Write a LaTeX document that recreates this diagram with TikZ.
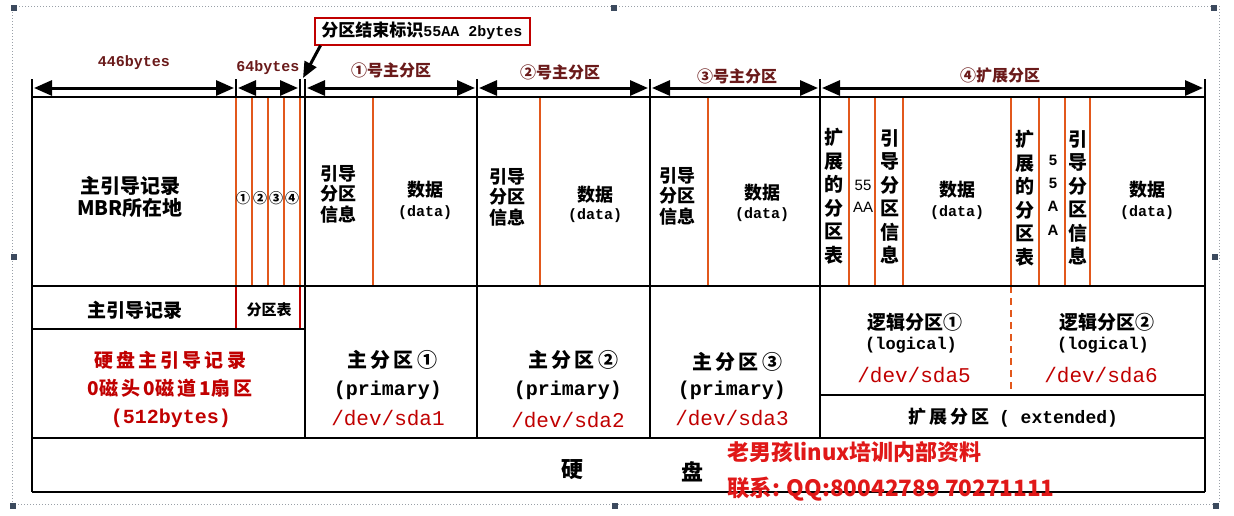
\documentclass[tikz,border=0pt]{standalone}
\usepackage{fontspec}
\usetikzlibrary{arrows.meta}
\newfontfamily\cjk{Noto Sans CJK SC}
\newfontfamily\mono{Liberation Mono}
\newfontfamily\lsans{Liberation Sans}
\newcommand\myfs[2]{\fontsize{#1}{#2}\selectfont}
\definecolor{maroon}{HTML}{6A1A1A}
\definecolor{orgc}{HTML}{E2581C}
\definecolor{dred}{HTML}{C00000}
\definecolor{wred}{HTML}{E01818}
\definecolor{handlec}{HTML}{3C4A5E}
\definecolor{framec}{HTML}{9AA0A8}
\tikzset{
  blk/.style={line width=2.6pt, black},
  orgline/.style={line width=2pt, orgc},
  redline/.style={line width=2.2pt, dred},
  dimarr/.style={line width=3pt, {Triangle[length=18pt,width=15pt]}-{Triangle[length=18pt,width=15pt]}, shorten >=2pt, shorten <=2pt},
  ptr/.style={line width=3pt, -{Triangle[length=16pt,width=13pt]}},
  toplbl/.style={inner sep=0, text=maroon, font=\cjk\bfseries\myfs{16}{18}},
  monolbl/.style={inner sep=0, text=maroon, font=\mono\bfseries\myfs{15}{17}},
  cjkt/.style={inner sep=0, align=center, font=\cjk\bfseries\myfs{18}{20.5}},
  vert/.style={inner sep=0, align=center, font=\cjk\bfseries\myfs{19}{23.5}},
  datat/.style={inner sep=0, align=center, font=\mono\bfseries\myfs{15}{17}},
  prim/.style={inner sep=0, font=\mono\bfseries\myfs{20}{22}},
  dev/.style={inner sep=0, text=dred, font=\mono\myfs{21}{23}},
  circ/.style={inner sep=0, font=\cjk\bfseries\myfs{14}{16}},
  wm/.style={inner sep=0, anchor=west, text=wred, font=\cjk\bfseries\myfs{22}{24}},
  hdl/.style={fill=handlec, minimum size=6pt, inner sep=0},
}
\begin{document}
\begin{tikzpicture}[x=1pt,y=-1pt]
\useasboundingbox (0,0) rectangle (1234,515);
% selection frame
\draw[framec, dotted, line width=1pt] (12,6) rectangle (1219,504);
\node[hdl] (h1) at (14,8) {};
\node[hdl] (h2) at (614,8) {};
\node[hdl] (h3) at (1214,8) {};
\node[hdl] (h4) at (14,257) {};
\node[hdl] (h5) at (1215,257) {};
\node[hdl] (h6) at (13,506) {};
\node[hdl] (h7) at (615,506) {};
\node[hdl] (h8) at (1216,506) {};

% orange internal lines
\foreach \x in {236,252,268,284,300,373,540,708,849,875,903,1011,1039,1065,1090}
  \draw[orgline] (\x,97) -- (\x,286);
\draw[redline] (236,286) -- (236,329);
\draw[redline] (300,286) -- (300,329);
\draw[orgline, dash pattern=on 7pt off 5pt] (1011,286) -- (1011,395);

% ticks
\foreach \x in {32,236,300,305,477,650,820,1205}
  \draw[blk] (\x,79) -- (\x,97);
% dimension arrows
\coordinate (t0) at (32,88);
\coordinate (t1) at (236,88);
\coordinate (t2) at (300,88);
\coordinate (t3) at (305,88);
\coordinate (t4) at (477,88);
\coordinate (t5) at (650,88);
\coordinate (t6) at (820,88);
\coordinate (t7) at (1205,88);
\draw[dimarr] (t0) -- (t1);
\draw[dimarr] (t1) -- (t2);
\draw[dimarr] (t3) -- (t4);
\draw[dimarr] (t4) -- (t5);
\draw[dimarr] (t5) -- (t6);
\draw[dimarr] (t6) -- (t7);

% table borders
\draw[blk] (32,97) -- (1205,97);
\draw[blk] (32,286) -- (1205,286);
\draw[blk] (32,329) -- (305,329);
\draw[blk] (820,395) -- (1205,395);
\draw[blk] (32,438) -- (1205,438);
\draw[blk] (32,492) -- (1205,492);
\draw[blk] (32,97) -- (32,492);
\draw[blk] (1205,97) -- (1205,492);
\foreach \x in {305,477,650,820}
  \draw[blk] (\x,97) -- (\x,438);

% top labels
\node[monolbl] (l446) at (134,63) {446bytes};
\node[monolbl] (l64) at (268,68) {64bytes};
\node[draw=dred, line width=2pt, minimum width=215pt, minimum height=27pt, inner sep=0] (endmark) at (422,31)
  {{\cjk\bfseries\myfs{17}{19}分区结束标识}{\mono\bfseries\myfs{15}{17}55AA 2bytes}};
\coordinate (tip) at (303,78);
\draw[ptr] ([xshift=7pt]endmark.south west) -- (tip);
\node[toplbl] (p1l) at (391,70) {①号主分区};
\node[toplbl] (p2l) at (560,72) {②号主分区};
\node[toplbl] (p3l) at (737,76) {③号主分区};
\node[toplbl] (p4l) at (1000,75) {④扩展分区};

% row 1
\node[cjkt, font=\cjk\bfseries\myfs{20}{22}] (mbr) at (130,197) {主引导记录\\MBR所在地};
\node[circ] (c1) at (243,198) {①};
\node[circ] (c2) at (260,198) {②};
\node[circ] (c3) at (276,198) {③};
\node[circ] (c4) at (292,198) {④};

\node[cjkt] (b1) at (338,194) {引导\\分区\\信息};
\node[cjkt] (d1) at (425,190) {数据};
\node[datat] (e1) at (425,213) {(data)};
\node[cjkt] (b2) at (507,197) {引导\\分区\\信息};
\node[cjkt] (d2) at (595,195) {数据};
\node[datat] (e2) at (595,216) {(data)};
\node[cjkt] (b3) at (677,196) {引导\\分区\\信息};
\node[cjkt] (d3) at (762,193) {数据};
\node[datat] (e3) at (762,215) {(data)};

\node[vert] (x1) at (834,196) {扩\\展\\的\\分\\区\\表};
\node[inner sep=0, align=center, font=\lsans\myfs{15}{22}] (m1) at (863,196) {55\\AA};
\node[vert] (g1) at (890,197) {引\\导\\分\\区\\信\\息};
\node[cjkt] (d4) at (957,190) {数据};
\node[datat] (e4) at (957,213) {(data)};
\node[vert] (x2) at (1025,198) {扩\\展\\的\\分\\区\\表};
\node[inner sep=0, align=center, font=\lsans\bfseries\myfs{15}{23.3}] (m2) at (1053,195) {5\\5\\A\\A};
\node[vert] (g2) at (1078,198) {引\\导\\分\\区\\信\\息};
\node[cjkt] (d5) at (1147,190) {数据};
\node[datat] (e5) at (1147,213) {(data)};

% row 2
\node[cjkt, font=\cjk\bfseries\myfs{19}{21}] (mbr2) at (135,310) {主引导记录};
\node[cjkt, font=\cjk\bfseries\myfs{15}{17}] (ptab) at (269,310) {分区表};

% MBR box
\node[inner sep=0, align=center, text=dred, font=\cjk\bfseries\myfs{19}{28}] (mbr3) at (170,374)
  {硬\,盘\,主\,引\,导\,记\,录\\0磁\,头\,0磁\,道\,1扇\,区};
\node[inner sep=0, text=dred, font=\mono\bfseries\myfs{20}{22}] (mbr4) at (171,418) {(512bytes)};

% primary partitions
\node[cjkt, font=\cjk\bfseries\myfs{20}{22}] (q1) at (392,360) {主\,分\,区\,①};
\node[prim] (r1) at (388,390) {(primary)};
\node[dev] (s1) at (388,418) {/dev/sda1};
\node[cjkt, font=\cjk\bfseries\myfs{20}{22}] (q2) at (573,360) {主\,分\,区\,②};
\node[prim] (r2) at (568,390) {(primary)};
\node[dev] (s2) at (568,420) {/dev/sda2};
\node[cjkt, font=\cjk\bfseries\myfs{20}{22}] (q3) at (737,362) {主\,分\,区\,③};
\node[prim] (r3) at (732,390) {(primary)};
\node[dev] (s3) at (732,418) {/dev/sda3};

% logical partitions
\node[cjkt, font=\cjk\bfseries\myfs{19}{21}] (lg1) at (915,322) {逻辑分区①};
\node[prim, font=\mono\bfseries\myfs{17}{19}] (lo1) at (911,345) {(logical)};
\node[dev] (s5) at (914,375) {/dev/sda5};
\node[cjkt, font=\cjk\bfseries\myfs{19}{21}] (lg2) at (1107,322) {逻辑分区②};
\node[prim, font=\mono\bfseries\myfs{17}{19}] (lo2) at (1103,345) {(logical)};
\node[dev] (s6) at (1101,375) {/dev/sda6};
\node[inner sep=0] (ext) at (1013,418)
  {{\cjk\bfseries\myfs{18}{20}扩\,展\,分\,区}\hspace{10pt}{\mono\bfseries\myfs{18}{20}( extended)}};

% bottom row
\node[cjkt, font=\cjk\bfseries\myfs{22}{24}] (hd1) at (572,470) {硬};
\node[cjkt, font=\cjk\bfseries\myfs{22}{24}] (hd2) at (692,472) {盘};

% watermark
\node[wm] (w1) at (727,452) {老男孩linux培训内部资料};
\node[wm, font=\cjk\bfseries\myfs{22.5}{24}] (w2) at (727,489) {联系: QQ:80042789 70271111};
\end{tikzpicture}
\end{document}
